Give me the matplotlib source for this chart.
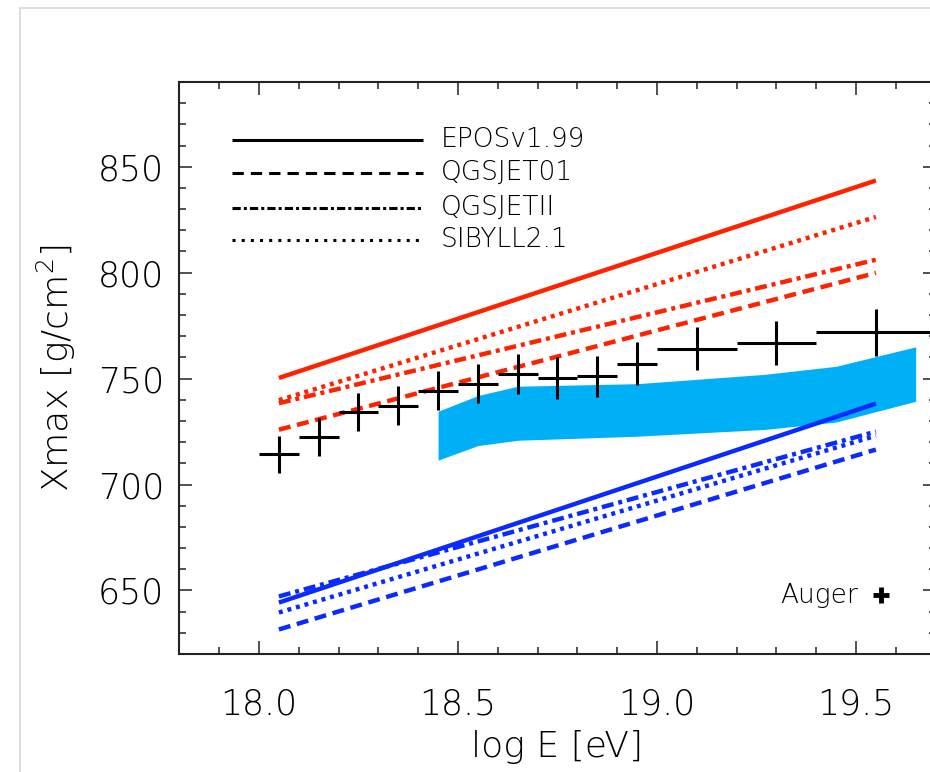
import numpy as np
import matplotlib
matplotlib.use("Agg")
import matplotlib.pyplot as plt
from matplotlib.lines import Line2D
from matplotlib.ticker import MultipleLocator, FormatStrFormatter

plt.rcParams['font.family'] = ['DejaVu Sans']
plt.rcParams['font.weight'] = 'light'
plt.rcParams['axes.labelweight'] = 'light'

# Auger Xmax measurements (bin centres, half-widths, mean Xmax, errors)
auger_logE = [18.05, 18.15, 18.25, 18.35, 18.45, 18.55, 18.65, 18.75, 18.85, 18.95, 19.1, 19.3, 19.55]
auger_dlogE = [0.05, 0.05, 0.05, 0.05, 0.05, 0.05, 0.05, 0.05, 0.05, 0.05, 0.1, 0.1, 0.15]
auger_xmax = [714.2, 722.3, 734.3, 737.3, 744.3, 747.6, 752.2, 750.3, 751.1, 757.1, 764.2, 766.8, 771.8]
auger_err = [8.9, 8.9, 9.0, 9.0, 9.3, 9.2, 9.4, 9.7, 9.8, 10.0, 10.2, 10.4, 11.0]

# model predictions, straight lines between the two energy ends
model_logE = [18.05, 19.55]
models = ['EPOSv1.99', 'QGSJET01', 'QGSJETII', 'SIBYLL2.1']
proton = {'EPOSv1.99': [750.3, 843.5], 'QGSJET01': [725.9, 799.9],
          'QGSJETII': [738.4, 806.1], 'SIBYLL2.1': [739.8, 826.3]}
iron = {'EPOSv1.99': [644.3, 738.2], 'QGSJET01': [631.6, 716.5],
        'QGSJETII': [647.2, 725.0], 'SIBYLL2.1': [639.6, 723.0]}

# shaded band
band_logE = [18.45, 18.55, 18.65, 18.95, 19.27, 19.45, 19.65]
band_hi = [734.6, 742.0, 746.4, 747.6, 752.0, 755.8, 765.0]
band_lo = [711.5, 718.4, 720.9, 722.8, 726.0, 729.5, 739.3]

dashes = {'EPOSv1.99': None, 'QGSJET01': (2.7, 1.5),
          'QGSJETII': (2.7, 1.1, 0.9, 1.1), 'SIBYLL2.1': (0.9, 1.1)}
leg_dashes = {'EPOSv1.99': None, 'QGSJET01': (3.7, 2.3),
              'QGSJETII': (2.7, 1.0, 1.0, 1.0), 'SIBYLL2.1': (1.0, 2.0)}

fig = plt.figure(figsize=(9.3, 7.72), dpi=100)
ax = fig.add_axes([0.1929, 0.1528, 0.8131, 0.741])

ax.fill_between(band_logE, band_lo, band_hi, color='#00b0f6', lw=0, zorder=1)

for m in models:
    for vals, col in ((proton[m], '#ff2200'), (iron[m], '#0a2bff')):
        ln, = ax.plot(model_logE, vals, color=col, lw=3.2, zorder=2,
                      solid_capstyle='butt', dash_capstyle='butt')
        if dashes[m] is not None:
            ln.set_dashes(dashes[m])

ax.errorbar(auger_logE, auger_xmax, xerr=auger_dlogE, yerr=auger_err,
            fmt='none', ecolor='black', elinewidth=2.2, capsize=0, zorder=3)

# key for the interaction models
leg_y = [0.8986, 0.8414, 0.7802, 0.7238]
for m, y in zip(models, leg_y):
    ln, = ax.plot([0.0696, 0.3221], [y, y], color='black', lw=2.2,
                  transform=ax.transAxes, solid_capstyle='butt', dash_capstyle='butt')
    if leg_dashes[m] is not None:
        ln.set_dashes(leg_dashes[m])
    ax.text(0.3458, y, m, transform=ax.transAxes, fontsize=19, va='center', ha='left')

ax.text(0.8975, 0.1031, 'Auger', transform=ax.transAxes, fontsize=19, va='center', ha='right')
ax.plot([0.928], [0.1031], marker='+', color='black', ms=12, mew=3.5,
        transform=ax.transAxes, clip_on=False)

ax.set_xlim(17.8, 19.7)
ax.set_ylim(620, 890)
ax.xaxis.set_major_locator(MultipleLocator(0.5))
ax.xaxis.set_minor_locator(MultipleLocator(0.1))
ax.xaxis.set_major_formatter(FormatStrFormatter('%.1f'))
ax.yaxis.set_major_locator(MultipleLocator(50))
ax.yaxis.set_minor_locator(MultipleLocator(10))

ax.tick_params(which='both', direction='in', top=True, right=True, width=1.1, color='#222222')
ax.tick_params(which='major', length=9.5)
ax.tick_params(which='minor', length=5)
ax.tick_params(axis='x', which='major', labelsize=25, pad=24)
ax.tick_params(axis='y', which='major', labelsize=25, pad=11)
for s in ax.spines.values():
    s.set_linewidth(1.5)
    s.set_color('#222222')

ax.set_xlabel('log E [eV]', fontsize=26, labelpad=6)
ax.set_ylabel('Xmax [g/cm$^2$]', fontsize=26, labelpad=14)

# thin grey frame around the panel
fig.add_artist(Line2D([20 / 930, 20 / 930], [0, 1 - 8 / 772], transform=fig.transFigure,
                      color='#dddddd', lw=1.5))
fig.add_artist(Line2D([20 / 930, 1], [1 - 8 / 772, 1 - 8 / 772], transform=fig.transFigure,
                      color='#dddddd', lw=1.5))

fig.savefig('out.png', dpi=100)
